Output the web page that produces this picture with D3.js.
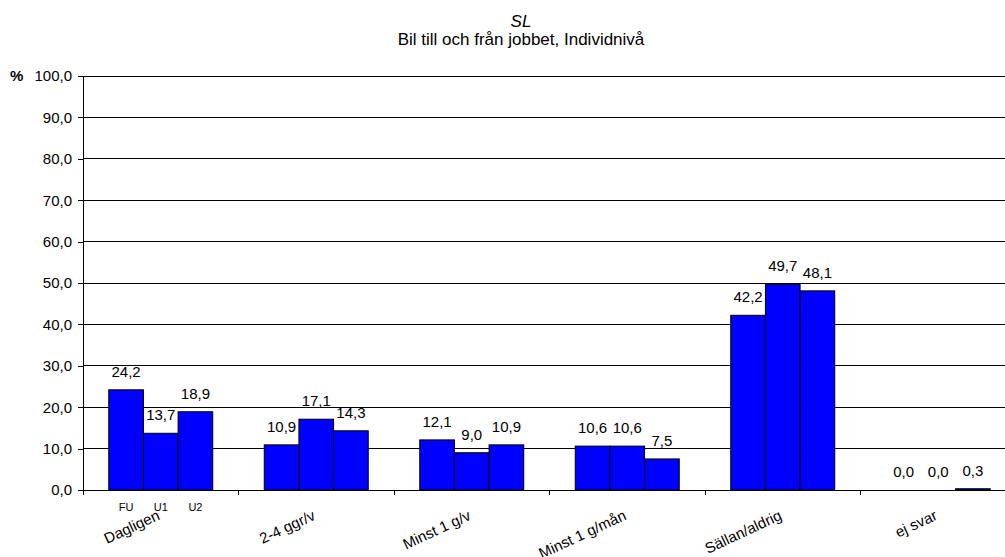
<!DOCTYPE html>
<html><head><meta charset="utf-8">
<script src="https://cdn.jsdelivr.net/npm/d3@7"></script>
<style>body{margin:0;background:#fff;} svg{display:block;font-family:"Liberation Sans",Arial,sans-serif;}</style>
</head><body>
<svg id="c" width="1005" height="557"></svg>
<script>
const categories = ["Dagligen","2-4 ggr/v","Minst 1 g/v","Minst 1 g/mån","Sällan/aldrig","ej svar"];
const series = ["FU","U1","U2"];
const valuesFU = [24.2,10.9,12.1,10.6,42.2,0.0];
const valuesU1 = [13.7,17.1,9.0,10.6,49.7,0.0];
const valuesU2 = [18.9,14.3,10.9,7.5,48.1,0.3];
const yTicks = [0,10,20,30,40,50,60,70,80,90,100];
const title = "SL";
const subtitle = "Bil till och från jobbet, Individnivå";

(function(){
const seriesValues = [valuesFU, valuesU1, valuesU2];
const data = categories.map((c,i)=>({cat:c, vals: series.map((s,j)=>({s, v: seriesValues[j][i]}))}));

const svg = d3.select("#c");
const fmt = v => v.toFixed(1).replace(".", ",");
const mL = 83, mR = 1016, mT = 76, mB = 490;

const x = d3.scaleBand().domain(categories).range([mL,mR]).paddingInner(0).paddingOuter(0);
const xs = d3.scaleBand().domain(series).range([0,x.bandwidth()]).paddingInner(0).paddingOuter(0.743);
const y = d3.scaleLinear().domain([0,100]).range([mB, mT]);

// gridlines
svg.append("g").selectAll("line").data(yTicks.filter(t=>t>0)).join("line")
  .attr("x1",mL).attr("x2",mR).attr("y1",d=>y(d)).attr("y2",d=>y(d))
  .attr("stroke","#000").attr("stroke-width",1).attr("shape-rendering","crispEdges");

// y axis
const yAxis = d3.axisLeft(y).tickValues(yTicks).tickFormat(fmt).tickSize(5).tickSizeOuter(0);
const gy = svg.append("g").attr("transform",`translate(${mL},0)`).call(yAxis);
gy.select(".domain").attr("stroke","#000").attr("shape-rendering","crispEdges");
gy.selectAll("line").attr("stroke","#000").attr("shape-rendering","crispEdges");
gy.selectAll("text").attr("font-size","15px").attr("fill","#000").attr("x",-11)
  .attr("font-family","Liberation Sans, Arial, sans-serif");
svg.append("text").attr("x",10).attr("y",y(100)).attr("dy","0.35em")
  .attr("font-size","15px").attr("font-weight","bold").text("%");

// x axis line + ticks at band boundaries
svg.append("line").attr("x1",mL).attr("x2",mR).attr("y1",mB).attr("y2",mB)
  .attr("stroke","#000").attr("shape-rendering","crispEdges");
const bounds = categories.map(c=>x(c)).concat([mR]);
svg.append("g").selectAll("line").data(bounds).join("line")
  .attr("x1",d=>d).attr("x2",d=>d).attr("y1",mB).attr("y2",mB+5)
  .attr("stroke","#000").attr("shape-rendering","crispEdges");

// bars
const groups = svg.append("g").selectAll("g").data(data).join("g")
  .attr("transform",d=>`translate(${x(d.cat)},0)`);
groups.selectAll("rect").data(d=>d.vals).join("rect")
  .attr("x",d=>xs(d.s)).attr("width",xs.bandwidth())
  .attr("y",d=>y(d.v)).attr("height",d=>mB-y(d.v))
  .attr("fill","#0000FF").attr("stroke","#000").attr("stroke-width",1);
groups.selectAll("text").data(d=>d.vals).join("text")
  .attr("x",d=>xs(d.s)+xs.bandwidth()/2).attr("y",d=>y(d.v)-13)
  .attr("text-anchor","middle").attr("font-size","15px").text(d=>fmt(d.v));

// series labels under first group
svg.append("g").selectAll("text").data(series).join("text")
  .attr("x",s=>x(categories[0])+xs(s)+xs.bandwidth()/2).attr("y",511)
  .attr("text-anchor","middle").attr("font-size","11px").text(s=>s);

// category labels rotated
svg.append("g").selectAll("text").data(categories).join("text")
  .attr("transform",c=>`translate(${x(c)+x.bandwidth()/2},519) rotate(-25)`)
  .attr("text-anchor","end").attr("font-size","15px").text(c=>c);

// titles
svg.append("text").attr("x",521).attr("y",27).attr("text-anchor","middle")
  .attr("font-size","17px").attr("font-style","italic").text(title);
svg.append("text").attr("x",521).attr("y",45).attr("text-anchor","middle")
  .attr("font-size","17px").text(subtitle);
})();
</script>
</body></html>
